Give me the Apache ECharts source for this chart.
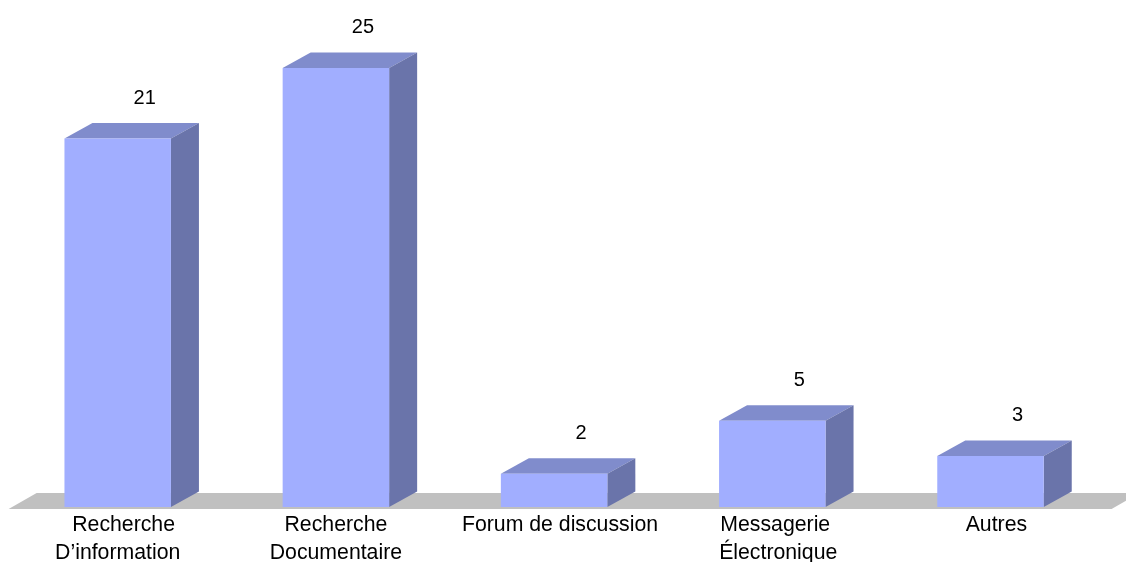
<!DOCTYPE html>
<html>
<head>
<meta charset="utf-8">
<style>html,body{margin:0;padding:0;background:#fff}#c{width:1126px;height:562px}</style>
<script src="https://cdn.jsdelivr.net/npm/echarts@6/dist/echarts.min.js"></script>
</head>
<body>
<div id="c"></div>
<script>
const categories = ['  Recherche\nD’information', 'Recherche\nDocumentaire', '  Forum de discussion', ' Messagerie\n  Électronique', '  Autres'];
const values = [21, 25, 2, 5, 3];
const barFraction = 0.488, depthX = 28, depthY = 15.5, font = '20px "Liberation Sans", Arial, sans-serif';

const chart = echarts.init(document.getElementById('c'), null, {renderer: 'canvas'});
function poly(points, fill) {
  return {type: 'polygon', shape: {points}, style: {fill}, silent: true};
}
chart.setOption({
  animation: false,
  backgroundColor: '#fff',
  grid: {left: 8.6, width: 1091, top: 68, bottom: 53, containLabel: false, outerBoundsMode: 'none'},
  xAxis: {
    type: 'category', data: categories,
    axisLine: {show: false}, axisTick: {show: false}, splitLine: {show: false},
    axisLabel: {interval: 0, margin: 2, color: '#000', fontFamily: '"Liberation Sans", Arial, sans-serif', fontSize: 21.25, lineHeight: 28, verticalAlign: 'top', hideOverlap: false}
  },
  yAxis: {type: 'value', min: 0, max: 25, show: false, splitLine: {show: false}},
  series: [
    {
      type: 'custom', z: 1, silent: true,
      data: [0],
      encode: {x: 0},
      renderItem(params, api) {
        const band = api.size([1, 0])[0];
        const first = api.coord([0, 0]);
        const last = api.coord([categories.length - 1, 0]);
        const l = first[0] - band / 2, r = last[0] + band / 2, b = first[1];
        return poly([[l, b], [l + depthX, b - depthY - 0.5], [r + depthX + 12, b - depthY - 0.5], [r + 12, b]], '#c0c0c0');
      }
    },
    {
      type: 'custom', z: 2, silent: true,
      data: values.map((v, i) => [i, v]),
      encode: {x: 0, y: 1},
      renderItem(params, api) {
        const top = api.coord([api.value(0), api.value(1)]);
        const base = api.coord([api.value(0), 0]);
        const w = api.size([1, 0])[0] * barFraction;
        const x0 = top[0] - w / 2, x1 = top[0] + w / 2, y0 = top[1], y1 = base[1] - 2;
        return {
          type: 'group',
          children: [
            poly([[x0, y0], [x0 + depthX, y0 - depthY], [x1 + depthX, y0 - depthY], [x1, y0]], '#808ccc'),
            poly([[x1, y0], [x1 + depthX, y0 - depthY], [x1 + depthX, y1 - depthY], [x1, y1]], '#6a74aa'),
            {type: 'rect', shape: {x: x0, y: y0, width: w, height: y1 - y0}, style: {fill: '#a1aeff'}, silent: true},
            {type: 'text', silent: true, style: {text: String(api.value(1)), x: top[0] + 27, y: y0 - 40.5, font, fill: '#000', align: 'center', verticalAlign: 'middle'}}
          ]
        };
      }
    }
  ]
});
</script>
</body>
</html>
